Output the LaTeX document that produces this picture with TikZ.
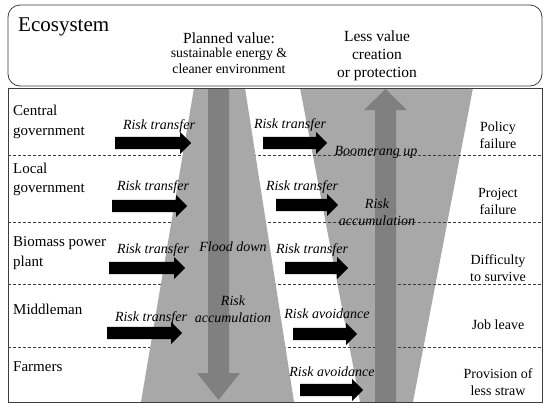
\documentclass[tikz,border=0pt]{standalone}
\usepackage{fontspec}
\setmainfont{Liberation Serif}
\usetikzlibrary{shapes.arrows,positioning}
\definecolor{funnelgray}{RGB}{168,168,168}
\definecolor{flowgray}{RGB}{128,128,128}
\definecolor{framegray}{RGB}{60,60,60}
\begin{document}
\begin{tikzpicture}[x=1pt, y=-1pt,
        actor/.style={anchor=west, align=left, inner sep=0pt, font=\fontsize{15}{19.5}\selectfont},
        outcome/.style={align=center, inner sep=0pt, font=\fontsize{14}{17}\selectfont},
        move/.style={align=center, inner sep=0pt, font=\fontsize{14}{17}\selectfont\itshape},
        header/.style={align=center, inner sep=0pt, font=\fontsize{15.5}{18}\selectfont},
        blockarrow/.style={single arrow, fill=black, inner sep=0pt, text height=12pt, text depth=0pt,
            minimum width=22pt, single arrow head extend=5pt, anchor=west},
        rowline/.style={framegray, dash pattern=on 3pt off 2pt, line width=0.7pt}
    ]
        \useasboundingbox (0,0) rectangle (550,408);

        % Ecosystem
        \draw[framegray, line width=0.8pt, rounded corners=12pt] (8,5) rectangle (542,86);
        \node[anchor=west, inner sep=0pt, font=\fontsize{21}{24}\selectfont] (eco) at (18,27) {Ecosystem};
        \node[header] (plan) at (229,38) {Planned value:};
        \node[align=center, inner sep=0pt, font=\fontsize{13.8}{16}\selectfont, below=4pt of plan] (goal) {sustainable energy \&\\cleaner environment};
        \node[header] (less) at (377,56) {Less value\\creation\\or protection};

        % Funnels
        \fill[funnelgray] (300,88) -- (473,88) -- (413,402) -- (360,402) -- cycle;
        \foreach \y in {155,222,284,347}
            \draw[rowline] (8,\y) -- (542,\y);
        \fill[funnelgray] (194,88) -- (245,88) -- (294,402) -- (141,402) -- cycle;
        \fill[flowgray] (208,88) -- (229,88) -- (229,373) -- (240,373) -- (218.5,400)
            -- (197,373) -- (208,373) -- cycle;
        \fill[flowgray] (375,402) -- (396,402) -- (396,110) -- (407,110) -- (385.5,89)
            -- (364,110) -- (375,110) -- cycle;
        \draw[framegray, line width=0.8pt] (8,88) rectangle (542,402);

        % Actors
        \node[actor] (cg) at (13,122) {Central\\government};
        \node[actor] (lg) at (13,179.5) {Local\\government};
        \node[actor] (bp) at (13,253) {Biomass power\\plant};
        \node[actor] (mm) at (13,309) {Middleman};
        \node[actor] (fa) at (13,367) {Farmers};

        % Risk arrows
        \node[blockarrow, minimum height=76pt] (a1) at (115,143) {};
        \node[blockarrow, minimum height=64pt] (b1) at (263,143) {};
        \node[blockarrow, minimum height=75pt] (a2) at (112,206) {};
        \node[blockarrow, minimum height=62pt] (b2) at (276,205) {};
        \node[blockarrow, minimum height=76pt] (a3) at (109,268) {};
        \node[blockarrow, minimum height=63pt] (b3) at (285,268) {};
        \node[blockarrow, minimum height=75pt] (a4) at (107,333) {};
        \node[blockarrow, minimum height=64pt] (b4) at (293,334) {};
        \node[blockarrow, minimum height=63pt] (b5) at (300,390) {};

        \node[move] (ta1) at (159,126) {Risk transfer};
        \node[move] (tb1) at (290,125) {Risk transfer};
        \node[move] (ta2) at (153,187) {Risk transfer};
        \node[move] (tb2) at (302,187) {Risk transfer};
        \node[move] (ta3) at (153,250) {Risk transfer};
        \node[move] (tb3) at (312,250) {Risk transfer};
        \node[move] (ta4) at (151,318) {Risk transfer};
        \node[move] (tb4) at (327,314) {Risk avoidance};
        \node[move] (tb5) at (332,372) {Risk avoidance};

        % Flows
        \node[move] (flood) at (233,247) {Flood down};
        \node[move] (accl) at (233,309) {Risk\\accumulation};
        \node[move] (boom) at (376,152) {Boomerang up};
        \node[move] (accr) at (377,212) {Risk\\accumulation};

        % Outcomes
        \node[outcome] (o1) at (498,135) {Policy\\failure};
        \node[outcome] (o2) at (498,201.5) {Project\\failure};
        \node[outcome] (o3) at (498,268) {Difficulty\\to survive};
        \node[outcome] (o4) at (498,325) {Job leave};
        \node[outcome] (o5) at (498,382) {Provision of\\less straw};
    \end{tikzpicture}
\end{document}
